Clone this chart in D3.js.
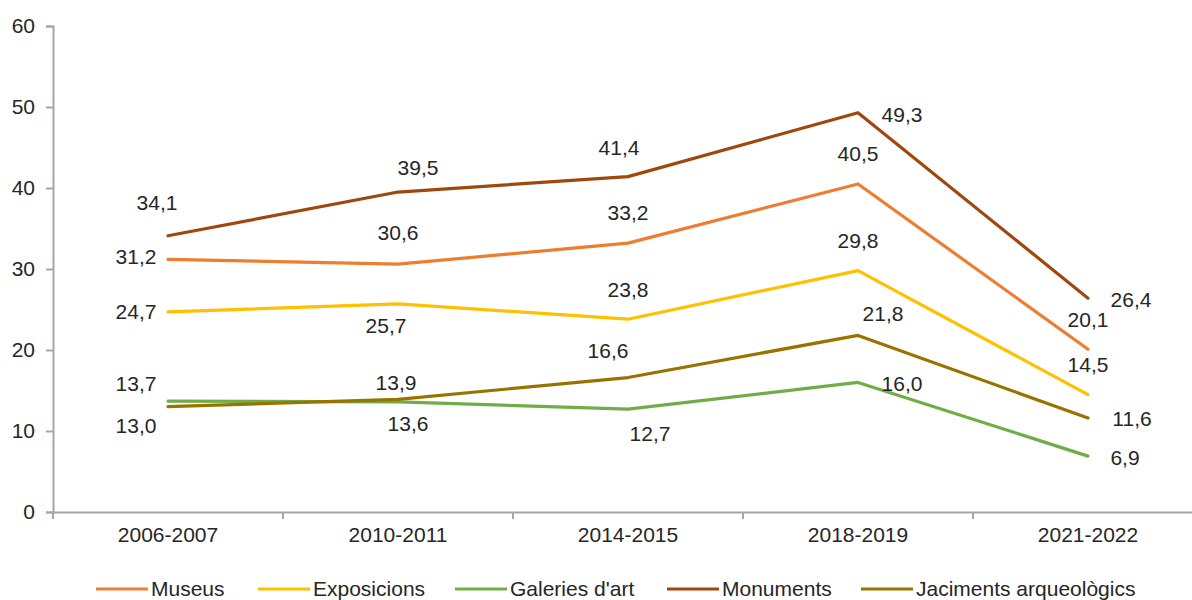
<!DOCTYPE html>
<html>
<head>
<meta charset="utf-8">
<script src="https://cdn.jsdelivr.net/npm/d3@7/dist/d3.min.js"></script>
<style>
  html, body { margin: 0; padding: 0; background: #fff; }
  svg { display: block; }
  text { font-family: "Liberation Sans", Arial, sans-serif; }
</style>
</head>
<body>
<svg id="chart" width="1192" height="600"></svg>
<script>
// ---- Data ----
const categories = ["2006-2007", "2010-2011", "2014-2015", "2018-2019", "2021-2022"];
const seriesNames = ["Museus", "Exposicions", "Galeries d'art", "Monuments", "Jaciments arqueològics"];
const museus = [31.2, 30.6, 33.2, 40.5, 20.1];
const exposicions = [24.7, 25.7, 23.8, 29.8, 14.5];
const galeries = [13.7, 13.6, 12.7, 16.0, 6.9];
const monuments = [34.1, 39.5, 41.4, 49.3, 26.4];
const jaciments = [13.0, 13.9, 16.6, 21.8, 11.6];
const yTickValues = [0, 10, 20, 30, 40, 50, 60];

// ---- Styling / label placement (separate from data) ----
const colors = ["#ED7D31", "#FFC000", "#70AD47", "#9E480E", "#997300"];
const labelOffsets = [
  [[-32, -3], [0, -31], [0, -30], [0, -30], [0, -30]],          // Museus
  [[-32, 0], [-12, 22], [0, -30], [0, -30], [0, -30]],          // Exposicions
  [[-32, -17], [10, 22], [22, 25], [44, 1], [37, 2]],           // Galeries
  [[-11, -33], [20, -24], [-9, -29], [44, 2], [43, 1]],         // Monuments
  [[-32, 19], [-2, -17], [-20, -27], [25, -22], [44, 1]]        // Jaciments
];
const seriesValues = [museus, exposicions, galeries, monuments, jaciments];

const svg = d3.select("#chart");
const fmt = v => v.toFixed(1).replace(".", ",");
const textColor = "#262626";
const axisColor = "#A6A6A6";
const fontSize = "21px";

const x = d3.scaleBand().domain(categories).range([53, 1203]);
const y = d3.scaleLinear().domain([0, 60]).range([512, 26]);
const cx = c => x(c) + x.bandwidth() / 2;

// Y axis
const yAxis = svg.append("g").attr("transform", "translate(53,0)")
  .call(d3.axisLeft(y).tickValues(yTickValues).tickSize(7).tickPadding(11).tickFormat(d3.format("d")));
yAxis.select(".domain").attr("stroke", axisColor).attr("stroke-width", 2);
yAxis.selectAll(".tick line").attr("stroke", axisColor).attr("stroke-width", 2);
yAxis.selectAll(".tick text").attr("fill", textColor).style("font-size", fontSize)
  .style("font-family", "'Liberation Sans', Arial, sans-serif");

// X axis
const xAxis = svg.append("g").attr("transform", "translate(0,512)")
  .call(d3.axisBottom(x).tickSize(0).tickSizeOuter(0).tickPadding(15));
xAxis.select(".domain").attr("stroke", axisColor).attr("stroke-width", 2);
xAxis.selectAll(".tick text").attr("fill", textColor).style("font-size", fontSize)
  .style("font-family", "'Liberation Sans', Arial, sans-serif");
// boundary ticks
svg.append("g").selectAll("line").data(categories).join("line")
  .attr("x1", d => x(d)).attr("x2", d => x(d))
  .attr("y1", 512).attr("y2", 519)
  .attr("stroke", axisColor).attr("stroke-width", 2);

// Lines
const line = d3.line().x((d, i) => cx(categories[i])).y(d => y(d));
seriesValues.forEach((vals, s) => {
  svg.append("path").datum(vals)
    .attr("d", line)
    .attr("fill", "none")
    .attr("stroke", colors[s])
    .attr("stroke-width", 3.2)
    .attr("stroke-linejoin", "round")
    .attr("stroke-linecap", "round");
});

// Labels
seriesValues.forEach((vals, s) => {
  svg.append("g").selectAll("text").data(vals).join("text")
    .attr("x", (d, i) => cx(categories[i]) + labelOffsets[s][i][0])
    .attr("y", (d, i) => y(d) + labelOffsets[s][i][1])
    .attr("dy", "0.35em")
    .attr("text-anchor", "middle")
    .attr("fill", textColor)
    .style("font-size", fontSize)
    .text(d => fmt(d));
});

// Legend
const legendX = [96, 258, 455, 667, 861];
const legendY = 589;
const lg = svg.append("g");
seriesNames.forEach((name, s) => {
  lg.append("line")
    .attr("x1", legendX[s]).attr("x2", legendX[s] + 52)
    .attr("y1", legendY).attr("y2", legendY)
    .attr("stroke", colors[s]).attr("stroke-width", 3.2);
  lg.append("text")
    .attr("x", legendX[s] + 55).attr("y", legendY)
    .attr("dy", "0.35em")
    .attr("fill", textColor)
    .style("font-size", fontSize)
    .text(name);
});
</script>
</body>
</html>
